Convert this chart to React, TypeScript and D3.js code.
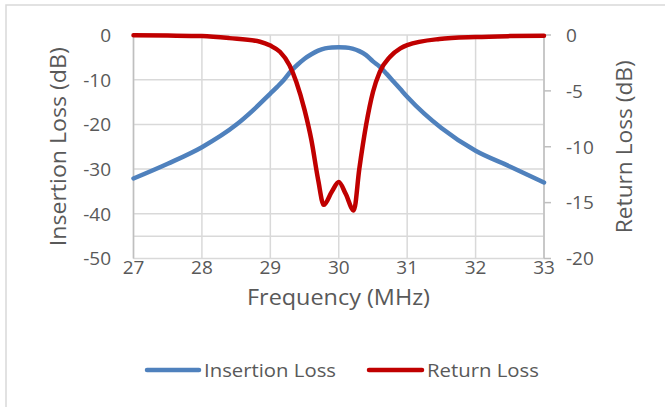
import React from "react";
import * as d3 from "d3";

const ilFreq = [27, 27.5, 28, 28.5, 28.75, 29, 29.1, 29.2, 29.3, 29.4, 29.5, 29.6, 29.7, 29.8, 29.9, 30, 30.1, 30.2, 30.3, 30.4, 30.5, 30.6, 30.7, 30.8, 30.9, 31, 31.25, 31.5, 32, 32.5, 33];
const ilValues = [-32.1, -28.8, -25.1, -20.1, -16.8, -13.1, -11.6, -10.0, -8.1, -6.6, -5.3, -4.3, -3.5, -3.0, -2.8, -2.75, -2.8, -3.05, -3.6, -4.5, -5.9, -7.1, -8.7, -10.4, -12.1, -13.8, -17.6, -20.8, -25.9, -29.4, -33.0];

const rlFreq = [27, 27.5, 28, 28.4, 28.85, 29, 29.14, 29.28, 29.38, 29.5, 29.6, 29.7, 29.78, 29.9, 30, 30.1, 30.22, 30.3, 30.4, 30.5, 30.6, 30.75, 30.9, 31, 31.47, 32, 32.5, 33];
const rlValues = [-0.02, -0.05, -0.1, -0.28, -0.6, -0.95, -1.5, -2.7, -4.2, -6.7, -9.4, -13.0, -15.2, -14.0, -13.15, -14.2, -15.7, -12.0, -8.05, -5.1, -3.3, -1.95, -1.2, -0.9, -0.36, -0.18, -0.1, -0.06];

const xTicks = [27, 28, 29, 30, 31, 32, 33];
const leftTicks = [0, -10, -20, -30, -40, -50];
const leftGrid = [0, -10, -20, -30, -40, -45, -50];
const rightTicks = [0, -5, -10, -15, -20];

const W = 665;
const H = 407;
const plot = { left: 133.5, right: 544, top: 35, bottom: 258.5 };
const FONT = "'Open Sans', 'Noto Sans', sans-serif";
const TXT = "#595959";
const GRID = "#d9d9d9";
const BLUE = "#4f81bd";
const RED = "#c00000";

export default function App() {
  const x = d3.scaleLinear().domain([27, 33]).range([plot.left, plot.right]);
  const yL = d3.scaleLinear().domain([-50, 0]).range([plot.bottom, plot.top]);
  const yR = d3.scaleLinear().domain([-20, 0]).range([plot.bottom, plot.top]);

  const ilLine = d3
    .line<number>()
    .x((_, i) => x(ilFreq[i]))
    .y((d) => yL(d))
    .curve(d3.curveMonotoneX);
  const rlLine = d3
    .line<number>()
    .x((_, i) => x(rlFreq[i]))
    .y((d) => yR(d))
    .curve(d3.curveMonotoneX);

  const midY = (plot.top + plot.bottom) / 2;

  return (
    <svg
      width={W}
      height={H}
      style={{ position: "absolute", left: 0, top: 0, background: "#fff" }}
      fontFamily={FONT}
    >
      <rect x={6} y={5} width={W + 20} height={H + 20} fill="#fff" stroke={GRID} strokeWidth={1.5} />

      {leftGrid.map((v) => (
        <line key={"h" + v} x1={plot.left} x2={plot.right} y1={yL(v)} y2={yL(v)} stroke={GRID} strokeWidth={1.5} />
      ))}
      {xTicks.map((v) => (
        <line key={"v" + v} x1={x(v)} x2={x(v)} y1={plot.top} y2={plot.bottom} stroke={GRID} strokeWidth={1.5} />
      ))}
      <line x1={plot.right} x2={plot.right} y1={plot.top} y2={plot.bottom} stroke="#bfbfbf" strokeWidth={1.5} />
      {rightTicks.map((v) => (
        <line key={"rt" + v} x1={plot.right} x2={plot.right + 7} y1={yR(v)} y2={yR(v)} stroke="#bfbfbf" strokeWidth={1.5} />
      ))}
      <line x1={plot.left} x2={plot.left} y1={plot.top} y2={plot.bottom} stroke="#bfbfbf" strokeWidth={1.5} />

      <path d={ilLine(ilValues) || ""} fill="none" stroke={BLUE} strokeWidth={4.5} strokeLinecap="round" strokeLinejoin="round" />
      <path d={rlLine(rlValues) || ""} fill="none" stroke={RED} strokeWidth={4.5} strokeLinecap="round" strokeLinejoin="round" />

      {leftTicks.map((v) => (
        <text key={"lt" + v} x={111} y={yL(v)} dy="0.36em" textAnchor="end" fontSize={19} fill={TXT}>
          {v}
        </text>
      ))}
      {rightTicks.map((v) => (
        <text key={"rl" + v} x={566} y={yR(v)} dy="0.36em" textAnchor="start" fontSize={19} fill={TXT}>
          {v}
        </text>
      ))}
      {xTicks.map((v) => (
        <text key={"xt" + v} x={x(v)} y={273.5} textAnchor="middle" fontSize={19} fill={TXT}>
          {v}
        </text>
      ))}

      <text x={338.5} y={305} textAnchor="middle" fontSize={21} fill={TXT} textLength={183} lengthAdjust="spacingAndGlyphs">
        Frequency (MHz)
      </text>
      <text
        transform={`translate(66,${midY}) rotate(-90)`}
        textAnchor="middle"
        fontSize={21}
        fill={TXT}
        textLength={199}
        lengthAdjust="spacingAndGlyphs"
      >
        Insertion Loss (dB)
      </text>
      <text
        transform={`translate(632,${midY}) rotate(-90)`}
        textAnchor="middle"
        fontSize={21}
        fill={TXT}
        textLength={173}
        lengthAdjust="spacingAndGlyphs"
      >
        Return Loss (dB)
      </text>

      <line x1={147} x2={199} y1={370} y2={370} stroke={BLUE} strokeWidth={4.5} strokeLinecap="round" />
      <text x={204} y={377} fontSize={19} fill={TXT} textLength={132} lengthAdjust="spacingAndGlyphs">
        Insertion Loss
      </text>
      <line x1={369} x2={422} y1={370} y2={370} stroke={RED} strokeWidth={4.5} strokeLinecap="round" />
      <text x={427} y={377} fontSize={19} fill={TXT} textLength={112} lengthAdjust="spacingAndGlyphs">
        Return Loss
      </text>
    </svg>
  );
}
